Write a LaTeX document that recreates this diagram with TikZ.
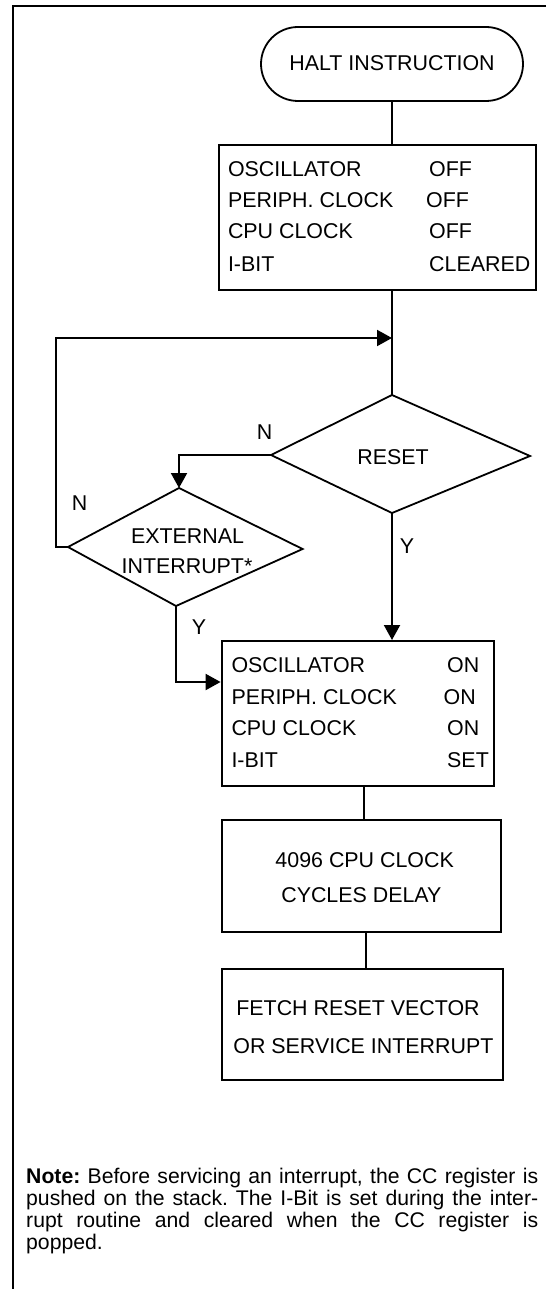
\documentclass[tikz,border=0pt]{standalone}
\usepackage{fontspec}
\setmainfont{Liberation Sans}
\usetikzlibrary{arrows.meta,calc}
\frenchspacing
\begin{document}
\begin{tikzpicture}[x=1pt,y=-1pt,
  every node/.style={font=\fontsize{21.4}{25}\selectfont},
  ln/.style={line width=2pt,black},
  arr/.style={ln,-{Triangle[length=15pt,width=16pt]}},
  boxs/.style={draw,line width=2pt,inner sep=0pt,rectangle},
  lt/.style={inner sep=0pt,anchor=base west},
  ct/.style={inner sep=0pt,anchor=base},
  dia/.style={line width=1.8pt,line join=miter}]
\useasboundingbox (0,0) rectangle (546,1289);
% frame
\draw[line width=2.2pt] (546,6) -- (13,6) -- (13,1289);

% terminal
\node[draw,line width=1.8pt,rounded corners=37pt,minimum width=262pt,minimum height=74pt,inner sep=0pt] (halt) at (392,64) {};
\node[ct] (haltt) at (392,71) {HALT INSTRUCTION};

% box1
\node[boxs,minimum width=317pt,minimum height=145pt] (box1) at (377,217.5) {};
\node[lt] (b1a) at (227.8,177) {OSCILLATOR};
\node[lt] (b1b) at (227.8,208) {PERIPH. CLOCK};
\node[lt] (b1c) at (227.8,239) {CPU CLOCK};
\node[lt] (b1d) at (227.8,271.5) {I-BIT};
\node[lt] (b1e) at (429,177) {OFF};
\node[lt] (b1f) at (426,208) {OFF};
\node[lt] (b1g) at (429,239) {OFF};
\node[lt] (b1h) at (429,271.5) {CLEARED};

% RESET diamond
\coordinate (rT) at (392,395);
\coordinate (rR) at (530,456);
\coordinate (rB) at (392,513);
\coordinate (rL) at (271,455);
\draw[dia] (rT) -- (rR) -- (rB) -- (rL) -- cycle;
\node[ct] (reset) at (393,464) {RESET};

% EXTERNAL INTERRUPT diamond
\coordinate (eT) at (179,488);
\coordinate (eR) at (302.6,549);
\coordinate (eB) at (176,606);
\coordinate (eL) at (68,547);
\draw[dia] (eT) -- (eR) -- (eB) -- (eL) -- cycle;
\node[ct] (ext1) at (187.5,543) {EXTERNAL};
\node[ct] (ext2) at (187,573) {INTERRUPT*};

% box2
\node[boxs,minimum width=272.4pt,minimum height=145pt] (box2) at (357.8,713.5) {};
\node[lt] (b2a) at (231.3,672.5) {OSCILLATOR};
\node[lt] (b2b) at (231.3,704) {PERIPH. CLOCK};
\node[lt] (b2c) at (231.3,735) {CPU CLOCK};
\node[lt] (b2d) at (231.3,767.5) {I-BIT};
\node[lt] (b2e) at (447,672.5) {ON};
\node[lt] (b2f) at (443.5,704) {ON};
\node[lt] (b2g) at (447,735) {ON};
\node[lt] (b2h) at (447,767.5) {SET};

% box3
\node[boxs,minimum width=279.4pt,minimum height=112pt] (box3) at (361.3,876) {};
\node[ct] (b3a) at (364.7,867) {4096 CPU CLOCK};
\node[ct] (b3b) at (361.4,902) {CYCLES DELAY};

% box4
\node[boxs,minimum width=280.9pt,minimum height=111pt] (box4) at (362.15,1024.5) {};
\node[ct] (b4a) at (358,1015) {FETCH RESET VECTOR};
\node[ct] (b4b) at (363.4,1053) {OR SERVICE INTERRUPT};

% labels
\node[ct] (n1) at (264.5,439) {N};
\node[ct] (n2) at (79.5,510) {N};
\node[ct] (y1) at (407,553) {Y};
\node[ct] (y2) at (199,634) {Y};

% connectors
\draw[ln] (halt.south) -- (halt.south |- box1.north);
\draw[ln] (rT |- box1.south) -- (rT);
\coordinate (lpc) at (56,338);
\coordinate (lpin) at (392,338);
\draw[arr] (eL) -| (lpc) -- (lpin);
\draw[arr] (rL) -| (eT);
\draw[arr] (rB) -- (rB |- box2.north);
\draw[arr] (eB) |- ([yshift=-42pt]box2.north west);
\coordinate (c23) at (363.5,0);
\coordinate (c34) at (365.5,0);
\draw[ln] (c23 |- box2.south) -- (c23 |- box3.north);
\draw[ln] (c34 |- box3.south) -- (c34 |- box4.north);

% note
\node[inner sep=0pt,anchor=base west] (note) at (26,1183) {\parbox[t]{512pt}{\fontsize{21.2}{22.3}\selectfont\textbf{Note:} Before servicing an interrupt, the CC register is\linebreak pushed on the stack. The I-Bit is set during the inter-\linebreak rupt routine and cleared when the CC register is\linebreak popped.}};
\end{tikzpicture}
\end{document}
